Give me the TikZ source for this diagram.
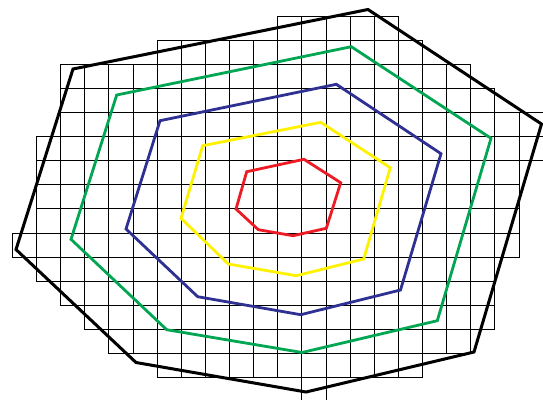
\documentclass[tikz,border=0pt]{standalone}
\usepackage{tikz}
\definecolor{pgreen}{HTML}{00A651}
\definecolor{pblue}{HTML}{2E3192}
\definecolor{pyellow}{HTML}{FFF200}
\definecolor{pred}{HTML}{ED1C24}
\tikzset{
  cell/.style={draw=black, line width=1.5pt},
  ring/.style={line width=2.8pt, line join=miter},
}
\begin{document}
\begin{tikzpicture}[x=1pt,y=-1pt]
\useasboundingbox (0,0) rectangle (543,399);
\def\gs{24.12}
\foreach \r/\a/\b in {0/11/15,1/6/16,2/2/18,3/2/19,4/2/21,5/1/21,6/1/20,7/1/20,8/1/20,9/0/20,10/1/19,11/2/19,12/3/19,13/4/18,14/6/16,15/12/12}{
  \foreach \c in {\a,...,\b}{
    \draw[cell] ({floor(12.5+\gs*\c)+0.5},{floor(16+\gs*\r)+0.5}) rectangle ({floor(12.5+\gs*(\c+1))+0.5},{floor(16+\gs*(\r+1))+0.5});
  }
}
\draw[ring, black, line width=3pt] (73,69) -- (368,9.5) -- (541.5,124) -- (474,352) -- (306,392) -- (136,362.5) -- (16,249.5) -- cycle;
\draw[ring, pgreen] (116.7,95) -- (351.3,46.7) -- (491,138.3) -- (437.3,320.7) -- (302,352.5) -- (166.7,329.7) -- (71,239.3) -- cycle;
\draw[ring, pblue] (160,120.7) -- (336.3,84.3) -- (441,153.7) -- (400.5,290) -- (300.7,314.7) -- (197.7,296.7) -- (126,229) -- cycle;
\draw[ring, pyellow] (202.7,145.7) -- (320.7,122.3) -- (390.3,167.7) -- (363.7,259) -- (296.3,275.7) -- (228.3,264) -- (181,218.3) -- cycle;
\draw[ring, pred] (246.7,171.7) -- (304,159.3) -- (340.7,182.7) -- (326.3,228.3) -- (293,235.7) -- (258.3,229.7) -- (236,209) -- cycle;
\end{tikzpicture}
\end{document}
